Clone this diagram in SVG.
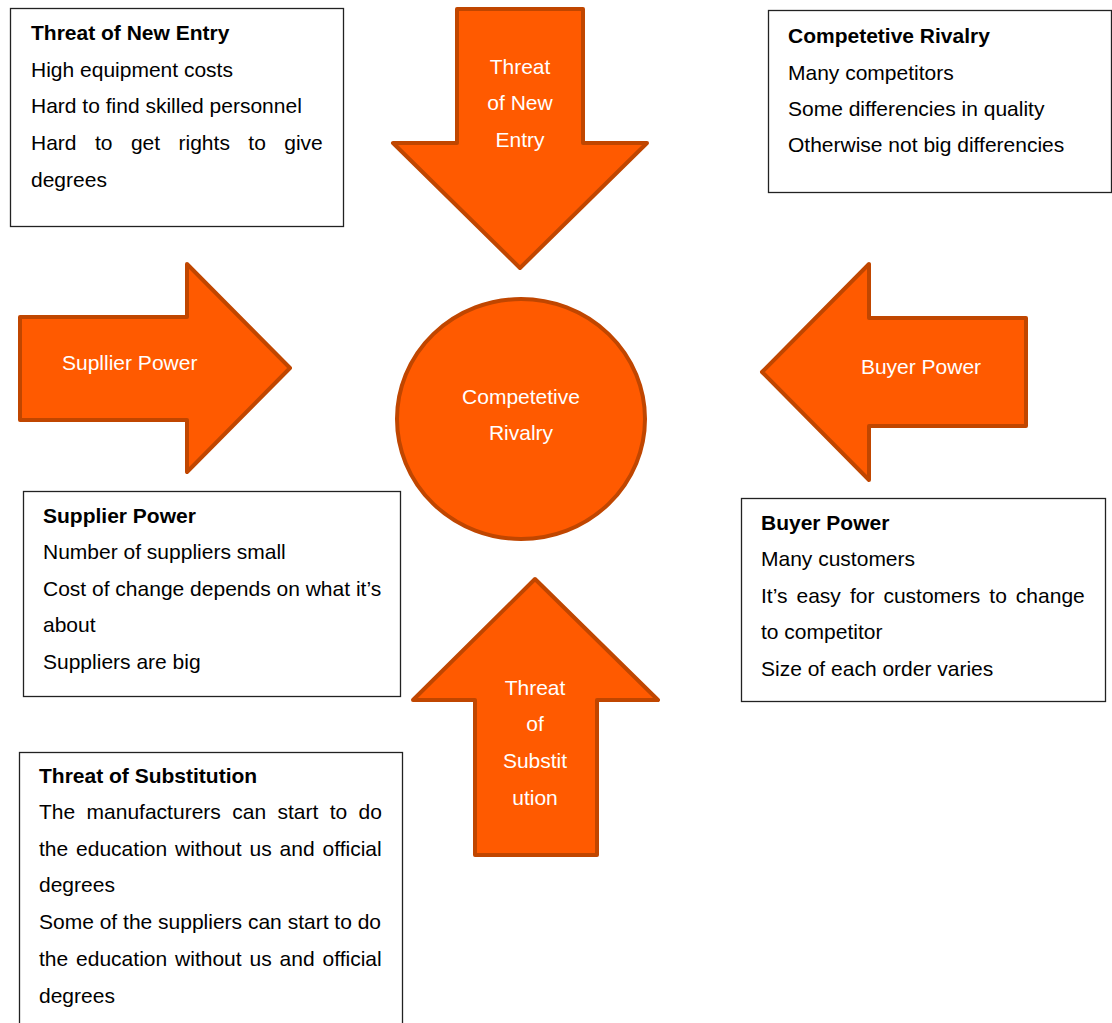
<svg xmlns="http://www.w3.org/2000/svg" width="1112" height="1023" viewBox="0 0 1112 1023">
<style>
.box{fill:#fff;stroke:#222;stroke-width:1.3}
.shape{fill:#FF5A00;stroke:#C04600;stroke-width:4;stroke-linejoin:round}
.t{font-family:"Liberation Sans",Arial,sans-serif;font-size:21px;fill:#000}
.b{font-weight:bold}
.w{font-family:"Liberation Sans",Arial,sans-serif;font-size:21px;fill:#fff;text-anchor:middle}
</style>
<rect width="1112" height="1023" fill="#fff"/>
<g id="connectors"></g>
<g id="box-new-entry">
<rect class="box" x="10.5" y="8.5" width="333" height="218"/>
<text class="t b" x="31" y="39.5">Threat of New Entry</text>
<text class="t" x="31" y="76.5">High equipment costs</text>
<text class="t" x="31" y="112.5">Hard to find skilled personnel</text>
<text class="t" x="31" y="149.5" word-spacing="12.6">Hard to get rights to give</text>
<text class="t" x="31" y="186.5">degrees</text>
</g>
<g id="arrow-new-entry">
<polygon class="shape" points="457,9 583,9 583,143 647,143 520,268 393,143 457,143"/>
<text class="w" x="520" y="73.5">Threat</text>
<text class="w" x="520" y="110">of New</text>
<text class="w" x="520" y="146.5">Entry</text>
</g>
<g id="box-rivalry">
<rect class="box" x="768.5" y="10.5" width="343" height="182"/>
<text class="t b" x="788" y="42.5">Competetive Rivalry</text>
<text class="t" x="788" y="79.5">Many competitors</text>
<text class="t" x="788" y="115.5">Some differencies in quality</text>
<text class="t" x="788" y="152">Otherwise not big differencies</text>
</g>
<g id="arrow-supplier">
<polygon class="shape" points="20,317 187,317 187,264 290,368 187,472 187,420 20,420"/>
<text class="t" x="62" y="369.5" style="fill:#fff">Supllier Power</text>
</g>
<g id="center-rivalry">
<ellipse class="shape" cx="521" cy="419" rx="124" ry="120"/>
<text class="w" x="521" y="403.5">Competetive</text>
<text class="w" x="521" y="439.5">Rivalry</text>
</g>
<g id="arrow-buyer">
<polygon class="shape" points="762,372 869,264 869,318 1026,318 1026,426 869,426 869,480"/>
<text class="w" x="921" y="373.5">Buyer Power</text>
</g>
<g id="box-supplier">
<rect class="box" x="23.5" y="491.5" width="377" height="205"/>
<text class="t b" x="43" y="522.5">Supplier Power</text>
<text class="t" x="43" y="559">Number of suppliers small</text>
<text class="t" x="43" y="595.5">Cost of change depends on what it’s</text>
<text class="t" x="43" y="632">about</text>
<text class="t" x="43" y="668.5">Suppliers are big</text>
</g>
<g id="box-buyer">
<rect class="box" x="741.5" y="498.5" width="364" height="203"/>
<text class="t b" x="761" y="529.5">Buyer Power</text>
<text class="t" x="761" y="566">Many customers</text>
<text class="t" x="761" y="602.5" word-spacing="3.2">It’s easy for customers to change</text>
<text class="t" x="761" y="639">to competitor</text>
<text class="t" x="761" y="675.5">Size of each order varies</text>
</g>
<g id="arrow-substitution">
<polygon class="shape" points="535,579 658,700 597,700 597,855 475,855 475,700 413,700"/>
<text class="w" x="535" y="694.5">Threat</text>
<text class="w" x="535" y="731">of</text>
<text class="w" x="535" y="767.5">Substit</text>
<text class="w" x="535" y="804.5">ution</text>
</g>
<g id="box-substitution">
<rect class="box" x="19.5" y="752.5" width="383" height="280"/>
<text class="t b" x="39" y="782.5">Threat of Substitution</text>
<text class="t" x="39" y="819" word-spacing="5.56">The manufacturers can start to do</text>
<text class="t" x="39" y="855.5" word-spacing="2.06">the education without us and official</text>
<text class="t" x="39" y="892">degrees</text>
<text class="t" x="39" y="929">Some of the suppliers can start to do</text>
<text class="t" x="39" y="965.5" word-spacing="2.06">the education without us and official</text>
<text class="t" x="39" y="1002.5">degrees</text>
</g>
</svg>
